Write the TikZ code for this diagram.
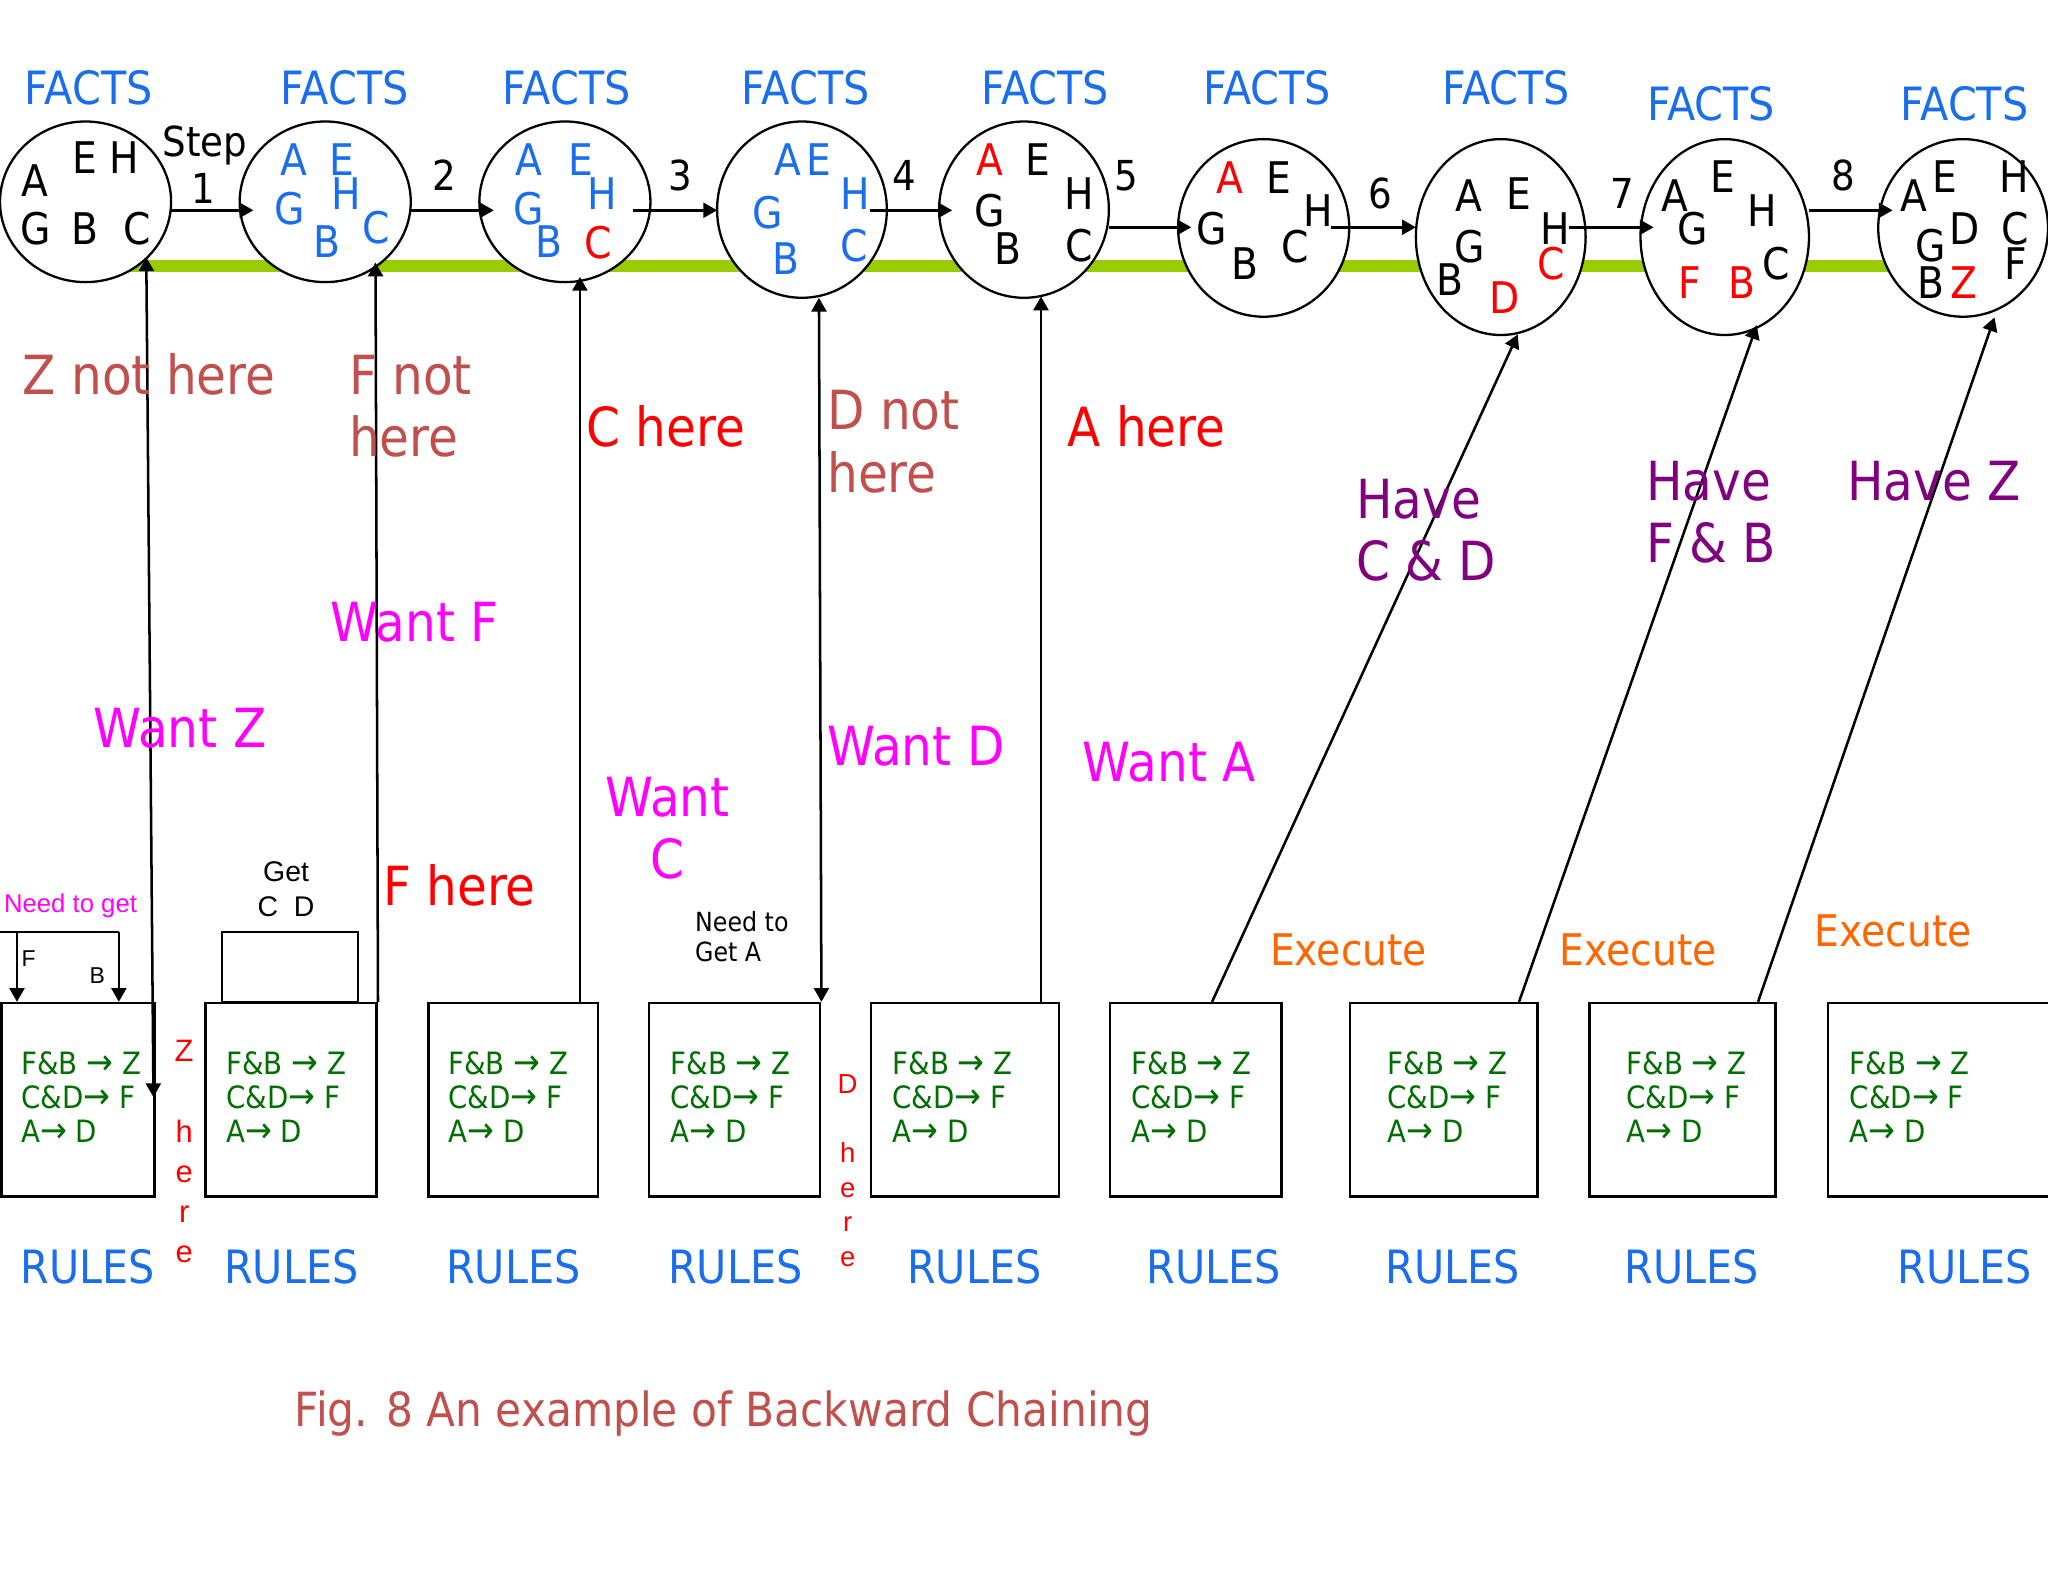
\documentclass[tikz,border=0pt]{standalone}
\usepackage{fontspec}
\setmainfont{DejaVu Sans}[FakeStretch=0.9]
\newfontfamily\arialf{Liberation Sans}
\usetikzlibrary{arrows.meta,shapes.geometric}
\definecolor{factblue}{RGB}{26,109,235}
\definecolor{brn}{RGB}{192,80,77}
\definecolor{rd}{RGB}{255,0,0}
\definecolor{mag}{RGB}{255,0,255}
\definecolor{purp}{RGB}{128,0,128}
\definecolor{orng}{RGB}{255,102,0}
\definecolor{rgreen}{RGB}{0,110,0}
\definecolor{lgreen}{RGB}{153,204,0}
\newcommand\ml[1]{\begin{tabular}[t]{@{}l@{}}#1\end{tabular}}
\newcommand\mc[1]{\begin{tabular}[t]{@{}c@{}}#1\end{tabular}}
\newcommand\Lt[4]{\node[lt,text=#4] (#1) at (#2) {#3};}
\newcommand\ra{{\fontsize{15.5}{14.8}\selectfont →}}
\tikzset{
 fct/.style={ellipse, draw, line width=1pt, fill=white, inner sep=0pt},
 lt/.style={font=\fontsize{19}{21}\selectfont, anchor=center, inner sep=0pt},
 rbox/.style={rectangle, draw, line width=1.1pt, anchor=north west, minimum height=2.96cm, inner sep=0pt},
 rtxt/.style={font=\fontsize{13.4}{14.8}\selectfont, text=rgreen, anchor=base west, inner sep=0pt},
 hdr/.style={font=\fontsize{20}{22}\selectfont, text=factblue, anchor=base, inner sep=0pt},
 big/.style={font=\fontsize{23.5}{27.2}\selectfont, anchor=base west, inner sep=0pt},
 stp/.style={font=\fontsize{18}{20}\selectfont, anchor=base, inner sep=0pt},
 ex/.style={font=\fontsize{19}{21}\selectfont, text=orng, anchor=base west, inner sep=0pt},
 arr/.style={line width=1.1pt, -{Triangle[length=6pt,width=6.5pt]}},
 darr/.style={line width=1.1pt, {Triangle[length=6pt,width=6.5pt]}-{Triangle[length=6pt,width=6.5pt]}},
 ln/.style={line width=1.1pt},
}
\begin{document}
\begin{tikzpicture}[x=0.02cm,y=-0.02cm]
\fill[white] (0,0) rectangle (1568,1211);
\useasboundingbox (0,0) rectangle (1568,1211);

% green time line
\coordinate (g0) at (65,203.4);
\coordinate (g1) at (1503,203.4);
\draw[lgreen, line width=5.1pt] (g0) -- (g1);

% FACTS headers
\foreach \x/\y [count=\i] in {68/80,264/80,434/80,617/80,800/80,970/80,1153/80,1310/92.4,1504/92.4}
  \node[hdr] (fh\i) at (\x,\y) {FACTS};

% fact circles
\node[fct, minimum width=2.62cm, minimum height=2.46cm] (c1) at (65.5,154.5) {};
\node[fct, minimum width=2.62cm, minimum height=2.46cm] (c2) at (249,154.5) {};
\node[fct, minimum width=2.62cm, minimum height=2.46cm] (c3) at (432.5,154.5) {};
\node[fct, minimum width=2.6cm, minimum height=2.7cm] (c4) at (614,160.5) {};
\node[fct, minimum width=2.6cm, minimum height=2.7cm] (c5) at (784,160.5) {};
\node[fct, minimum width=2.62cm, minimum height=2.72cm] (c6) at (967.5,174.5) {};
\node[fct, minimum width=2.6cm, minimum height=3.0cm] (c7) at (1149,181.5) {};
\node[fct, minimum width=2.58cm, minimum height=3.0cm] (c8) at (1320.5,181.5) {};
\node[fct, minimum width=2.6cm, minimum height=2.72cm] (c9) at (1503,174.5) {};

% letters
\Lt{c1a}{27,138}{A}{black}\Lt{c1e}{65,121}{E}{black}\Lt{c1h}{95,121}{H}{black}
\Lt{c1g}{27,175}{G}{black}\Lt{c1b}{65,175}{B}{black}\Lt{c1c}{105,175}{C}{black}
\Lt{c2a}{225,122.5}{A}{factblue}\Lt{c2e}{262,122}{E}{factblue}\Lt{c2h}{265,148}{H}{factblue}
\Lt{c2g}{222,160}{G}{factblue}\Lt{c2b}{250,185}{B}{factblue}\Lt{c2c}{288,174}{C}{factblue}
\Lt{c3a}{405,122}{A}{factblue}\Lt{c3e}{445,122}{E}{factblue}\Lt{c3h}{461,148}{H}{factblue}
\Lt{c3g}{405,160}{G}{factblue}\Lt{c3b}{420,185}{B}{factblue}\Lt{c3c}{458,186}{C}{rd}
\Lt{c4a}{603,122}{A}{factblue}\Lt{c4e}{627,122}{E}{factblue}\Lt{c4h}{655,148}{H}{factblue}
\Lt{c4g}{588,163}{G}{factblue}\Lt{c4b}{602,198}{B}{factblue}\Lt{c4c}{654,188}{C}{factblue}
\Lt{c5a}{758,122}{A}{rd}\Lt{c5e}{795,122}{E}{black}\Lt{c5h}{826,148}{H}{black}
\Lt{c5g}{758,161}{G}{black}\Lt{c5b}{772,190}{B}{black}\Lt{c5c}{826,188}{C}{black}
\Lt{c6a}{942,136}{A}{rd}\Lt{c6e}{979,136}{E}{black}\Lt{c6h}{1009,161}{H}{black}
\Lt{c6g}{928,175}{G}{black}\Lt{c6b}{953,202}{B}{black}\Lt{c6c}{992,189}{C}{black}
\Lt{c7a}{1125,150}{A}{black}\Lt{c7e}{1163,148}{E}{black}\Lt{c7h}{1191,175}{H}{black}
\Lt{c7g}{1125,189}{G}{black}\Lt{c7b}{1110,214}{B}{black}\Lt{c7d}{1152,228}{D}{rd}\Lt{c7c}{1188,202}{C}{rd}
\Lt{c8a}{1282,150}{A}{black}\Lt{c8e}{1319,135}{E}{black}\Lt{c8h}{1349,161}{H}{black}
\Lt{c8g}{1296,175}{G}{black}\Lt{c8f}{1294,216}{F}{rd}\Lt{c8b}{1334,216}{B}{rd}\Lt{c8c}{1360,202}{C}{black}
\Lt{c9a}{1465,150}{A}{black}\Lt{c9e}{1489,135}{E}{black}\Lt{c9h}{1542,135}{H}{black}
\Lt{c9d}{1504,175}{D}{black}\Lt{c9c}{1543,175}{C}{black}\Lt{c9g}{1478,188}{G}{black}
\Lt{c9f}{1543,202}{F}{black}\Lt{c9b}{1478,216}{B}{black}\Lt{c9z}{1504,216}{Z}{rd}

% step arrows
\coordinate (s1a) at (131,161);  \coordinate (s1b) at (194,161);
\coordinate (s2a) at (315,161);  \coordinate (s2b) at (378,161);
\coordinate (s3a) at (485,161);  \coordinate (s3b) at (549,161);
\coordinate (s4a) at (666,161);  \coordinate (s4b) at (729,161);
\coordinate (s5a) at (849,174);  \coordinate (s5b) at (912,174);
\coordinate (s6a) at (1019,174); \coordinate (s6b) at (1084,174);
\coordinate (s7a) at (1201,174); \coordinate (s7b) at (1266,174);
\coordinate (s8a) at (1385,161); \coordinate (s8b) at (1449,161);
\foreach \i in {1,...,8} \draw[arr] (s\i a) -- (s\i b);
\node[stp] (stepw) at (157,120) {Step};
\node[stp] (n1) at (156,155.5) {1};
\node[stp] (n2) at (340,145.5) {2};
\node[stp] (n3) at (521,145.5) {3};
\node[stp] (n4) at (692,145.5) {4};
\node[stp] (n5) at (862,145.5) {5};
\node[stp] (n6) at (1057,159.5) {6};
\node[stp] (n7) at (1242,159.5) {7};
\node[stp] (n8) at (1411,145.5) {8};

% rule boxes
\node[rbox, minimum width=2.35cm] (r1) at (0,767) {};
\node[rbox, minimum width=2.62cm] (r2) at (156.5,767) {};
\node[rbox, minimum width=2.6cm]  (r3) at (327,767) {};
\node[rbox, minimum width=2.62cm] (r4) at (496,767) {};
\node[rbox, minimum width=2.88cm] (r5) at (666,767) {};
\node[rbox, minimum width=2.62cm] (r6) at (849,767) {};
\node[rbox, minimum width=2.87cm] (r7) at (1032.5,767) {};
\node[rbox, minimum width=2.85cm] (r8) at (1216,767) {};
\node[rbox, minimum width=3.39cm] (r9) at (1398.5,767) {};
\foreach \x [count=\i] in {16,173,343,513,683,866,1062,1245,1416}
  \node[rtxt] (rt\i) at (\x,823) {\ml{F\&B \ra{} Z\\C\&D\ra{} F\\A\ra{} D}};
\foreach \x [count=\i] in {67,223,393,563,746,929.5,1112,1295,1504}
  \node[hdr] (rl\i) at (\x,983) {RULES};

% connectors from rules to facts
\coordinate (v1t) at (112,197);  \coordinate (v1b) at (117.5,840);
\draw[darr] (v1t) -- (v1b);
\coordinate (v2t) at (287.5,201);
\draw[arr] (r2.north east) -- (v2t);
\coordinate (v3b) at (444,767); \coordinate (v3t) at (444,212);
\draw[arr] (v3b) -- (v3t);
\coordinate (v4t) at (627,228);
\draw[darr] (r4.north east) -- (v4t);
\coordinate (v5b) at (797,767); \coordinate (v5t) at (797,227);
\draw[arr] (v5b) -- (v5t);
\coordinate (v6b) at (928,767); \coordinate (v6t) at (1162,256);
\draw[arr] (v6b) -- (v6t);
\coordinate (v7b) at (1163,767); \coordinate (v7t) at (1345,249);
\draw[arr] (v7b) -- (v7t);
\coordinate (v8b) at (1346,767); \coordinate (v8t) at (1527,243);
\draw[arr] (v8b) -- (v8t);

% need-to-get bracket on box 1
\coordinate (bk0) at (0,713.4); \coordinate (bkF) at (13,713.4); \coordinate (bkB) at (91,713.4);
\coordinate (bkFe) at (13,767); \coordinate (bkBe) at (91,767);
\draw[ln] (bk0) -- (bkB);
\draw[arr] (bkF) -- (bkFe);
\draw[arr] (bkB) -- (bkBe);
\node[font=\arialf\fontsize{11.2}{13}\selectfont, text=mag, anchor=base] (need) at (54,699) {Need to get};
\node[font=\arialf\fontsize{10}{12}\selectfont, anchor=center] (lf) at (22,733.7) {F};
\node[font=\arialf\fontsize{10}{12}\selectfont, anchor=center] (lb) at (74.5,747) {B};

% get C D bracket on box 2
\coordinate (gb0) at (170,767); \coordinate (gb1) at (274,713.4);
\draw[ln] (gb0) rectangle (gb1);
\node[font=\arialf\fontsize{12.4}{15}\selectfont, anchor=base] (getcd) at (219,675) {\mc{Get\\C\ \ D}};

% need to get A
\node[font=\fontsize{11.5}{13.1}\selectfont, anchor=base west] (needa) at (526,713) {\ml{Need to\\Get A}};

% vertical "here" texts
\node[font=\arialf\fontsize{13.5}{17.5}\selectfont, text=rd, anchor=base] (zh) at (141,813) {\mc{Z\\ \\h\\e\\r\\e}};
\node[font=\arialf\fontsize{12}{15.1}\selectfont, text=rd, anchor=base] (dh) at (649,837) {\mc{D\\ \\h\\e\\r\\e}};

% big labels
\node[big, text=brn] (znh) at (17,302) {Z not here};
\node[big, text=brn] (fnh) at (267,302) {\ml{F not\\here}};
\node[big, text=rd] (ch) at (448.5,342) {C here};
\node[big, text=brn] (dnh) at (633,329) {\ml{D not\\here}};
\node[big, text=rd] (ah) at (817,342) {A here};
\node[big, text=mag] (wf) at (253,491) {Want F};
\node[big, text=mag] (wz) at (71,572) {Want Z};
\node[big, text=mag, anchor=base] (wc) at (511,625) {\mc{Want\\C}};
\node[big, text=mag] (wd) at (633,586) {Want D};
\node[big, text=mag] (wa) at (828.5,598.5) {Want A};
\node[big, text=rd] (fh) at (293,693) {F here};
\node[big, text=purp] (hcd) at (1038,397) {\ml{Have\\C \& D}};
\node[big, text=purp] (hfb) at (1260,383) {\ml{Have\\F \& B}};
\node[big, text=purp] (hz) at (1414,383) {Have Z};
\node[ex] (ex1) at (972,739) {Execute};
\node[ex] (ex2) at (1194,739) {Execute};
\node[ex] (ex3) at (1389,725) {Execute};

% caption
\node[font=\fontsize{20.5}{24}\selectfont, text=brn, anchor=base] (cap) at (554,1092.4) {Fig. 8 An example of Backward Chaining};
\end{tikzpicture}
\end{document}
